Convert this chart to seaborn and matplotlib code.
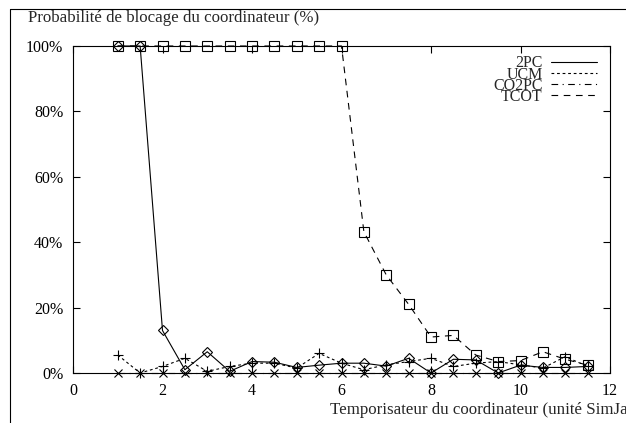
import pandas as pd
import matplotlib.pyplot as plt
import seaborn as sns
from matplotlib.lines import Line2D

# timer values (SimJava units)
timer = [1, 1.5, 2, 2.5, 3, 3.5, 4, 4.5, 5, 5.5, 6, 6.5,
         7, 7.5, 8, 8.5, 9, 9.5, 10, 10.5, 11, 11.5]

# blocking probability of the coordinator (%)
p_2pc = [100, 100, 13, 1, 6.5, 0.5, 3.5, 3.3, 1.7, 2.4, 3, 3,
         2.1, 4.5, 0, 4.2, 4, 0, 2.4, 1.7, 1.7, 2]
p_ucm = [5.5, 0, 2, 4.5, 0.5, 2, 3, 3, 1.5, 6, 3, 1,
         2.5, 3.5, 4.5, 2, 3, 3.5, 2.5, 1.5, 5, 2]
p_co2pc = [0, 0, 0, 0, 0, 0, 0, 0, 0, 0, 0, 0,
           0, 0, 0, 0, 0, 0, 0, 0, 0, 0]
p_tcot = [100, 100, 100, 100, 100, 100, 100, 100, 100, 100, 100, 43.2,
          30, 21, 11, 11.5, 5.5, 3.5, 3.8, 6.5, 4.2, 2.4]

series_names = ['2PC', 'UCM', 'CO2PC', 'TCOT']
x_ticks = [0, 2, 4, 6, 8, 10, 12]
y_ticks = [0, 20, 40, 60, 80, 100]

sns.set_style('ticks')
plt.rcParams['font.family'] = ['Liberation Serif', 'DejaVu Serif']
plt.rcParams['font.size'] = 11.5

df = pd.DataFrame({'timer': timer, '2PC': p_2pc, 'UCM': p_ucm,
                   'CO2PC': p_co2pc, 'TCOT': p_tcot})

fig = plt.figure(figsize=(6.26, 4.23), dpi=100)
ax = fig.add_axes([73 / 626, 1 - 373 / 423, (610 - 73) / 626, (373 - 46) / 423])

styles = {
    '2PC': dict(linestyle='-', marker='D', ms=5.5, mfc='none'),
    'UCM': dict(linestyle=(0, (2.5, 2.5)), marker='+', ms=7),
    'CO2PC': dict(linestyle=(0, (6, 4, 1, 4)), marker='x', ms=6),
    'TCOT': dict(linestyle=(0, (6, 5)), marker='s', ms=6.5, mfc='none'),
}

for name in series_names:
    sns.lineplot(data=df, x='timer', y=name, ax=ax, color='black', lw=0.8,
                 mec='black', mew=0.8, clip_on=False, label=name,
                 **styles[name])

ax.set_xlim(0, 12)
ax.set_ylim(0, 100)
ax.set_xticks(x_ticks)
ax.set_xticklabels([str(t) for t in x_ticks])
ax.set_yticks(y_ticks)
ax.set_yticklabels([f'{t}%' for t in y_ticks])
ax.set_xlabel('')
ax.set_ylabel('')
ax.tick_params(direction='in', length=5, width=0.8, top=True, right=True,
               pad=7, labelsize=11.5, colors='black')
for sp in ax.spines.values():
    sp.set_linewidth(0.8)
    sp.set_color('black')

handles, labels = ax.get_legend_handles_labels()
leg = ax.legend(handles, labels, loc='upper right', bbox_to_anchor=(0.976, 0.971),
                frameon=False, markerfirst=False, handlelength=2.9,
                handletextpad=0.5, labelspacing=-0.31, borderaxespad=0,
                borderpad=0, fontsize=11.5)
for h in leg.legend_handles:
    h.set_marker('')

fig.text(28 / 626, 1 - 18 / 423, 'Probabilité de blocage du coordinateur (%)',
         ha='left', va='center', fontsize=12.2)
fig.text(330 / 626, 1 - 410 / 423, 'Temporisateur du coordinateur (unité SimJava)',
         ha='left', va='center', fontsize=12.2)

# outer frame (cropped)
fig.add_artist(Line2D([10 / 626, 10 / 626], [0, 1 - 9 / 423], transform=fig.transFigure,
                      color='black', lw=0.8))
fig.add_artist(Line2D([10 / 626, 1], [1 - 9 / 423, 1 - 9 / 423], transform=fig.transFigure,
                      color='black', lw=0.8))

fig.savefig('out.png', dpi=100)
